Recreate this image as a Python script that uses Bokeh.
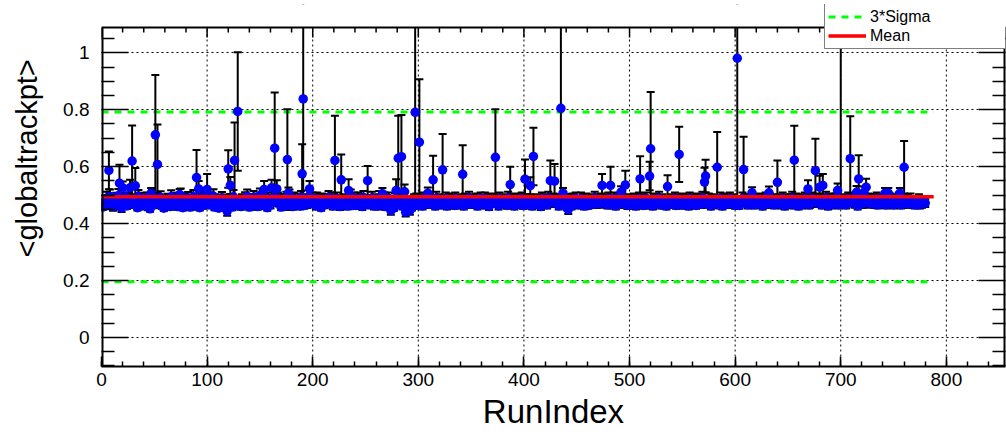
from bokeh.plotting import figure
from bokeh.models import (Range1d, LinearAxis, SingleIntervalTicker, FixedTicker, CustomJSTickFormatter,
                          Legend, LegendItem, ColumnDataSource, Title)
from bokeh.embed import file_html
from bokeh.resources import INLINE

# ---------------- data ----------------
run_index = list(range(1, 781))

# baseline <globaltrackpt> per run, in units of 1e-3
baseline_pt = [
    458,470,482,466,490,474,462,495,478,468, 460,486,470,492,476,498,464,480,455,475,
    482,466,494,462,488,470,500,474,458,486, 468,484,472,456,496,480,462,488,470,476,
    464,474,490,460,482,452,478,494,466,480, 458,488,468,480,470,492,462,476,454,484,
    474,462,486,478,460,494,470,480,488,465, 478,460,484,468,498,472,456,486,464,480,
    466,490,474,458,480,468,494,476,462,488, 470,482,456,488,476,464,492,472,484,460,
    480,466,488,470,476,496,458,484,472,462, 454,478,466,490,472,484,462,480,488,470,
    468,486,474,458,494,470,480,464,490,476, 472,460,484,476,466,488,470,496,478,458,
    484,472,462,492,476,468,486,460,480,498, 470,490,464,476,484,472,456,488,478,466,
    466,478,492,470,480,462,488,474,484,458, 476,468,484,462,490,472,480,496,466,476,
    460,488,472,480,466,486,476,462,492,470, 474,464,484,478,468,494,458,480,472,488,
    480,472,462,488,476,484,468,456,486,476, 466,484,476,470,492,472,480,488,462,476,
    476,464,488,480,472,460,490,470,484,474, 470,480,462,486,476,496,472,464,488,480,
    464,476,488,470,484,472,460,492,476,468, 476,486,466,480,472,490,476,462,484,474,
    474,462,492,476,468,484,472,488,460,480, 466,488,476,470,480,464,455,486,472,476,
    480,470,484,472,462,490,458,452,476,466, 454,470,460,456,466,484,476,486,464,474,
    476,484,470,462,488,480,468,476,484,472, 468,480,476,486,472,462,490,476,470,484,
    476,466,484,472,480,488,462,476,486,472, 472,484,476,464,488,476,466,484,472,480,
    480,470,462,486,476,484,472,490,468,476, 470,484,476,472,486,462,480,476,488,470,
    476,466,488,480,472,484,460,476,486,478, 472,480,468,484,476,462,488,480,470,476,
    484,472,480,464,490,476,468,484,476,472, 462,486,476,470,484,468,480,488,464,476,
    476,470,484,466,480,490,472,462,486,476, 468,484,472,480,476,460,488,476,484,470,
    480,466,490,472,464,484,476,486,470,480, 472,484,462,476,488,468,480,472,484,476,
    456,476,484,472,462,486,476,468,488,480, 476,466,480,488,472,484,462,476,486,470,
    464,480,472,484,476,468,490,480,470,484, 476,470,486,462,480,476,484,472,466,488,
    472,484,476,466,488,480,462,476,484,470, 480,468,484,476,470,490,476,464,480,484,
    466,480,472,486,476,462,484,476,488,470, 476,484,464,480,472,488,476,466,484,476,
    472,462,486,476,484,470,480,490,466,476, 484,476,466,480,462,486,476,472,484,468,
    476,480,488,464,476,484,470,480,466,486, 472,466,480,484,476,462,488,476,470,484,
    480,476,464,486,472,484,476,468,490,472, 468,484,476,470,486,476,462,484,476,480,
    476,470,484,480,466,488,476,462,486,472, 484,476,468,476,488,480,470,484,476,464,
    472,486,476,464,480,476,488,468,484,476, 476,466,484,480,470,490,476,466,480,484,
    468,480,472,486,476,462,484,476,488,470, 480,476,486,470,484,476,466,480,472,486,
    472,484,476,466,488,480,462,476,484,476, 476,470,484,490,466,480,476,486,470,462,
    484,476,466,480,476,488,470,484,476,466, 470,480,488,476,484,466,476,472,486,480,
    476,466,480,484,470,490,476,462,480,486, 466,484,476,472,486,476,484,466,476,488,
    480,470,484,476,466,480,488,476,470,484, 476,486,470,480,476,462,484,476,488,470,
    470,476,484,466,480,486,476,470,484,476, 484,470,476,488,466,480,476,484,470,480,
    476,480,466,484,476,470,486,476,480,466, 470,484,476,480,488,476,466,484,470,476,
    480,476,484,470,476,486,470,480,476,466, 476,470,480,484,466,476,470,480,476,472,
]

# baseline error per run, in units of 1e-3
baseline_err = [
    10,14,18,12,22,16,12,25,14,11, 15,12,20,16,13,24,10,18,14,12,
    20,13,16,11,19,14,22,12,15,17, 12,18,14,10,22,16,12,20,13,15,
    11,15,19,13,18,10,14,24,12,16, 13,20,12,16,14,22,11,15,10,18,
    16,12,19,14,11,23,13,17,20,12, 14,11,18,13,25,15,10,19,12,16,
    12,21,15,11,17,13,24,14,12,20, 13,17,10,22,15,12,23,14,18,11,
    18,12,22,14,16,25,11,19,13,12, 10,16,12,21,14,18,12,16,22,13,
    12,20,15,11,24,14,17,12,21,15, 14,11,19,16,12,22,13,24,15,11,
    19,14,12,23,15,13,20,11,17,25, 13,22,12,15,19,14,11,21,16,13,
    12,15,23,13,17,12,21,14,19,11, 16,13,19,12,22,14,17,24,12,15,
    11,21,14,17,12,20,15,12,23,14, 14,12,19,15,13,24,11,17,14,21,
    17,14,12,21,15,19,13,11,20,16, 12,19,15,13,23,14,17,21,12,15,
    15,12,21,17,14,12,22,13,19,14, 13,17,12,20,15,24,14,12,21,17,
    12,15,21,13,19,14,12,23,15,13, 15,20,12,17,14,22,15,12,19,14,
    14,12,23,15,13,19,14,21,12,17, 12,21,15,13,17,12,10,20,14,15,
    17,13,19,14,12,22,11,10,15,12, 10,13,11,10,12,19,15,20,12,14,
    15,19,14,12,21,17,13,15,19,14, 13,17,15,20,14,12,22,15,13,19,
    15,13,19,14,17,21,12,15,20,14, 14,19,15,12,21,15,13,19,14,17,
    17,14,12,20,15,19,14,22,13,15, 13,19,15,14,20,12,17,15,21,14,
    15,13,21,17,14,19,12,15,20,17, 14,17,13,19,15,12,21,17,14,15,
    19,14,17,12,22,15,13,19,15,14, 12,20,15,14,19,13,17,21,12,15,
    15,14,19,13,17,22,14,12,20,15, 13,19,14,17,15,12,21,15,19,14,
    17,13,22,14,12,19,15,20,14,17, 14,19,12,15,21,13,17,14,19,15,
    10,15,19,14,12,20,15,13,21,17, 15,13,17,21,14,19,12,15,20,14,
    12,17,14,19,15,13,22,17,14,19, 15,14,20,12,17,15,19,14,13,21,
    14,19,15,13,21,17,12,15,19,14, 17,13,19,15,14,22,15,13,17,19,
    13,17,14,20,15,12,19,15,21,14, 15,19,12,17,14,21,15,13,19,15,
    14,12,20,15,19,14,17,22,13,15, 19,15,13,17,12,20,15,14,19,13,
    15,17,21,12,15,19,14,17,13,20, 14,13,17,19,15,12,21,15,14,19,
    17,15,12,20,14,19,15,13,22,14, 13,19,15,14,20,15,12,19,15,17,
    15,14,19,17,13,21,15,12,20,14, 19,15,13,15,21,17,14,19,15,12,
    14,20,15,12,17,15,21,13,19,15, 15,13,19,17,14,22,15,13,17,19,
    13,17,14,20,15,12,19,15,21,14, 17,15,20,14,19,15,13,17,14,20,
    14,19,15,13,21,17,12,15,19,15, 15,14,19,22,13,17,15,20,14,12,
    19,15,13,17,15,21,14,19,15,13, 14,17,21,15,19,13,15,14,20,17,
    15,13,17,19,14,22,15,12,17,20, 13,19,15,14,20,15,19,13,15,21,
    17,14,19,15,13,17,21,15,14,19, 15,20,14,17,15,12,19,15,21,14,
    14,15,19,13,17,20,15,14,19,15, 19,14,15,21,13,17,15,19,14,17,
    15,17,13,19,15,14,20,15,17,13, 14,19,15,17,21,15,13,19,14,15,
    17,15,19,14,15,20,14,17,15,13, 15,14,17,19,13,15,14,17,15,14,
]

# runs that stand out from the band: run, <globaltrackpt> (1e-3), error (1e-3)
outlier_runs = [7, 17, 20, 27, 29, 32, 47, 51, 53, 74, 90, 92, 100, 119, 120, 122, 126, 129,
                154, 161, 164, 166, 176, 177, 190, 191, 197, 221, 227, 234, 252, 266, 274, 279,
                281, 284, 287, 288, 292, 297, 301, 309, 314, 323, 342, 373, 387, 401, 406, 409,
                425, 429, 435, 437, 442, 474, 482, 492, 496, 510, 519, 520, 536, 547, 571, 572,
                583, 602, 608, 616, 632, 640, 656, 669, 676, 680, 683, 697, 700, 709, 715, 717,
                722, 724, 742, 745, 756, 760]
outlier_pt = [587, 542, 526, 526, 620, 533, 507, 712, 608, 502, 562, 522, 520, 443, 592, 534, 622, 794,
              520, 526, 665, 522, 625, 507, 575, 838, 522, 622, 554, 516, 551, 505, 446, 516,
              630, 635, 512, 440, 446, 791, 686, 507, 554, 589, 573, 633, 537, 556, 533, 636,
              551, 549, 805, 507, 449, 534, 534, 511, 536, 557, 567, 663, 530, 643, 546, 567,
              598, 981, 590, 508, 508, 545, 623, 522, 586, 528, 534, 516, 1250, 628, 510, 557,
              510, 528, 507, 507, 507, 598]
outlier_err = [66, 65, 22, 28, 125, 62, 18, 210, 140, 20, 97, 28, 54, 15, 66, 30, 133, 208,
               30, 28, 196, 30, 177, 20, 104, 370, 28, 157, 89, 40, 51, 20, 15, 40,
               149, 147, 25, 15, 15, 335, 221, 20, 84, 126, 102, 169, 63, 69, 30, 101,
               71, 60, 315, 18, 15, 40, 66, 20, 50, 80, 50, 199, 40, 97, 50, 57,
               124, 490, 115, 20, 22, 77, 121, 30, 112, 40, 40, 25, 760, 149, 22, 83,
               20, 30, 18, 18, 18, 92]

mean_pt = 0.494
sigma3_high = 0.792
sigma3_low = 0.196
line_span = [0, 788]

x_major = [0, 100, 200, 300, 400, 500, 600, 700, 800]
y_major = [0.0, 0.2, 0.4, 0.6, 0.8, 1.0]
y_minor = [-0.1, -0.05, 0.05, 0.1, 0.15, 0.25, 0.3, 0.35, 0.45, 0.5, 0.55,
           0.65, 0.7, 0.75, 0.85, 0.9, 0.95, 1.05]

# ---------------- assemble ----------------
vals = [v / 1000.0 for v in baseline_pt]
errs = [e / 1000.0 for e in baseline_err]
for r, v, e in zip(outlier_runs, outlier_pt, outlier_err):
    vals[r - 1] = v / 1000.0
    errs[r - 1] = e / 1000.0

src = ColumnDataSource(dict(
    x=run_index,
    y=vals,
    lo=[v - e for v, e in zip(vals, errs)],
    hi=[v + e for v, e in zip(vals, errs)],
))

FONT = "Liberation Sans"

# axis box (the frame is extended upward so the legend can overhang the box)
X_LO, X_HI = 0, 856
Y_LO, BOX_TOP = -0.102, 1.089
FRAME_TOP_PX, FRAME_BOTTOM_PX = 4, 366
PX_PER_Y = (FRAME_BOTTOM_PX - 27) / (BOX_TOP - Y_LO)
Y_HI = BOX_TOP + (27 - FRAME_TOP_PX) / PX_PER_Y

p = figure(width=1006, height=439,
           x_range=Range1d(X_LO, X_HI), y_range=Range1d(Y_LO, Y_HI),
           output_backend="svg", toolbar_location=None,
           min_border_left=101, min_border_right=1, min_border_top=FRAME_TOP_PX,
           min_border_bottom=73)
p.background_fill_color = "white"
p.border_fill_color = "white"
p.outline_line_color = None

xt = SingleIntervalTicker(interval=100, num_minor_ticks=5)
yt = FixedTicker(ticks=y_major, minor_ticks=y_minor)

yfmt = CustomJSTickFormatter(code="""
    if (Math.abs(tick) < 1e-9) return "0";
    return String(Math.round(tick * 10) / 10);
""")
blank = CustomJSTickFormatter(code="return '';")

xa = p.xaxis[0]
xa.ticker = xt
xa.axis_label = "RunIndex"
ya = p.yaxis[0]
ya.ticker = yt
ya.formatter = yfmt

for ax in (xa, ya):
    ax.axis_line_width = 2
    ax.axis_line_color = "black"
    ax.major_tick_out = 0
    ax.minor_tick_out = 0
    ax.major_tick_line_width = 1.5
    ax.minor_tick_line_width = 1.5
    ax.major_label_text_font = FONT
    ax.major_label_text_font_size = "19px"
    ax.major_label_text_color = "black"
    ax.axis_label_text_font = FONT
    ax.axis_label_text_font_style = "normal"
    ax.axis_label_text_color = "black"

xa.major_tick_in = 10
xa.minor_tick_in = 5
xa.major_label_standoff = 6
xa.axis_label_text_font_size = "33px"
xa.axis_label_standoff = 4

ya.axis_line_color = None
ya.major_tick_in = 27
ya.minor_tick_in = 13
ya.major_label_standoff = 12

# invisible spacer between the tick labels and the y title
spacer = LinearAxis(ticker=FixedTicker(ticks=y_major, minor_ticks=[]), formatter=blank,
                    major_label_text_font_size="0px", major_label_standoff=0,
                    major_tick_out=10, major_tick_in=0, minor_tick_out=0, minor_tick_in=0,
                    major_tick_line_color=None, minor_tick_line_color=None, axis_line_color=None)
p.add_layout(spacer, "left")

# y-axis title, placed like the reference (shifted toward the top of the axis)
ytitle = Title(text="<globaltrackpt>", align="left", offset=109, standoff=12,
               vertical_align="top",
               text_font=FONT, text_font_size="29px", text_font_style="normal",
               text_color="black")
p.add_layout(ytitle, "left")

right = LinearAxis(ticker=yt, formatter=blank, major_label_text_font_size="0px",
                   major_label_standoff=0, major_tick_in=27, minor_tick_in=13,
                   major_tick_out=0, minor_tick_out=0, axis_line_color=None,
                   major_tick_line_width=1.5, minor_tick_line_width=1.5)
p.add_layout(right, "right")

p.xgrid.visible = False
p.ygrid[0].ticker = FixedTicker(ticks=y_major, minor_ticks=[])
p.ygrid[0].grid_line_color = "black"
p.ygrid[0].grid_line_dash = "2 3"
p.ygrid[0].grid_line_width = 1

# vertical grid lines, limited to the axis box
gx = x_major[1:]
p.segment(x0=gx, y0=[Y_LO] * len(gx), x1=gx, y1=[BOX_TOP] * len(gx),
          line_color="black", line_width=1, line_dash="2 3")

# 3 sigma lines
g_hi = p.line(line_span, [sigma3_high, sigma3_high], line_color="#00ff00", line_width=3, line_dash="7 6")
g_lo = p.line(line_span, [sigma3_low, sigma3_low], line_color="#00ff00", line_width=3, line_dash="7 6")

# error bars
p.segment(x0="x", y0="lo", x1="x", y1="hi", source=src, line_color="black", line_width=2)
p.scatter("x", "hi", source=src, marker="dash", size=8, line_color="black", line_width=2)
p.scatter("x", "lo", source=src, marker="dash", size=8, line_color="black", line_width=2)

# markers
p.scatter("x", "y", source=src, marker="circle", size=9.5, fill_color="#0000ff", line_color=None)

# mean
m = p.line(line_span, [mean_pt, mean_pt], line_color="#ff0000", line_width=3.5)

# blank strip above the axis box, then the box and its top ticks
p.quad(left=[X_LO], right=[X_HI], bottom=[BOX_TOP], top=[Y_HI + 1], fill_color="white", line_color=None)
p.segment(x0=[X_LO, X_LO, X_HI], y0=[BOX_TOP, Y_LO, Y_LO], x1=[X_HI, X_LO, X_HI], y1=[BOX_TOP, BOX_TOP, BOX_TOP],
          line_color="black", line_width=[2, 4, 4])
x_minor = [v for v in range(0, X_HI, 20) if v % 100]
p.segment(x0=x_major, y0=[BOX_TOP] * len(x_major), x1=x_major,
          y1=[BOX_TOP - 10 / PX_PER_Y] * len(x_major), line_color="black", line_width=1.5)
p.segment(x0=x_minor, y0=[BOX_TOP] * len(x_minor), x1=x_minor,
          y1=[BOX_TOP - 5 / PX_PER_Y] * len(x_minor), line_color="black", line_width=1.5)

legend = Legend(items=[LegendItem(label="3*Sigma", renderers=[g_hi]),
                       LegendItem(label="Mean", renderers=[m])],
                location=(723, 317), orientation="vertical",
                border_line_color="black", border_line_width=1,
                background_fill_color="white", background_fill_alpha=1,
                padding=3, margin=0, spacing=0,
                glyph_width=38, glyph_height=19, label_height=19, label_width=133,
                label_standoff=4,
                label_text_font=FONT, label_text_font_size="16px", label_text_color="black")
p.add_layout(legend)

open("out.html", "w").write(file_html(p, INLINE))
